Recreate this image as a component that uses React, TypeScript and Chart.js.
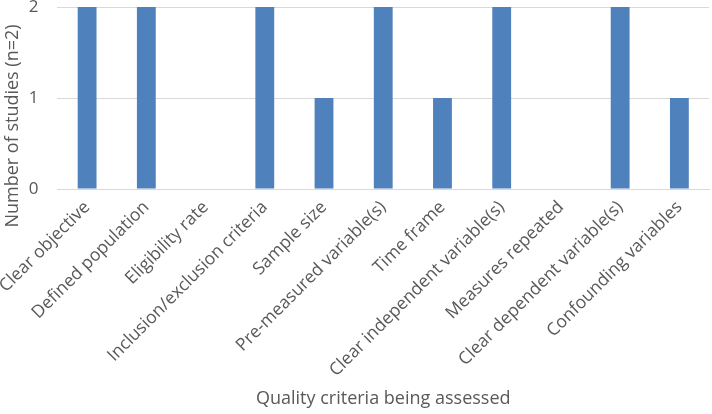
import React, { useEffect, useRef } from "react";
import { Chart, registerables } from "chart.js";

Chart.register(...registerables);

const categories = [
  "Clear objective",
  "Defined population",
  "Eligibility rate",
  "Inclusion/exclusion criteria",
  "Sample size",
  "Pre-measured variable(s)",
  "Time frame",
  "Clear independent variable(s)",
  "Measures repeated",
  "Clear dependent variable(s)",
  "Confounding variables",
];
const studies = [2, 2, 0, 2, 1, 2, 1, 2, 0, 2, 1];
const yTicks = [0, 1, 2];
const yTitle = "Number of studies (n=2)";
const xTitle = "Quality criteria being assessed";

const font = "'Open Sans', 'Noto Sans', sans-serif";

const yTitlePlugin = {
  id: "yTitle",
  afterDraw(chart: any) {
    const ctx = chart.ctx;
    ctx.save();
    ctx.translate(13, 126);
    ctx.rotate(-Math.PI / 2);
    ctx.fillStyle = "#595959";
    ctx.font = `18px ${font}`;
    ctx.textAlign = "center";
    ctx.textBaseline = "middle";
    ctx.fillText(yTitle, 0, 0);
    ctx.restore();
  },
};

export default function App() {
  const ref = useRef<HTMLCanvasElement>(null);
  useEffect(() => {
    if (!ref.current) return;
    const chart = new Chart(ref.current, {
      type: "bar",
      data: {
        labels: categories,
        datasets: [
          {
            data: studies,
            backgroundColor: "#4f81bd",
            barPercentage: 0.6,
            categoryPercentage: 0.53,
          },
        ],
      },
      options: {
        animation: false,
        responsive: false,
        maintainAspectRatio: false,
        layout: { padding: { left: 0, right: 3, top: 0, bottom: 4 } },
        plugins: { legend: { display: false }, tooltip: { enabled: false } },
        scales: {
          x: {
            grid: { display: false },
            border: { display: true, color: "#d9d9d9" },
            afterFit: (axis: any) => {
              axis.height = 221;
            },
            ticks: {
              color: "#595959",
              font: { family: font, size: 17.5 },
              minRotation: 45,
              maxRotation: 45,
              autoSkip: false,
              padding: 0,
            },
            title: {
              display: true,
              text: xTitle,
              color: "#595959",
              font: { family: font, size: 18 },
              padding: { top: 0, bottom: 0 },
            },
          },
          y: {
            min: 0,
            max: 2,
            afterBuildTicks: (axis: any) => {
              axis.ticks = yTicks.map((v) => ({ value: v }));
            },
            afterFit: (axis: any) => {
              axis.width = 53;
              axis.paddingTop = 7;
              axis.paddingBottom = 0;
            },
            grid: { color: "#d9d9d9", drawTicks: false },
            border: { display: false },
            ticks: {
              color: "#595959",
              font: { family: font, size: 17 },
              padding: 19,
            },
          },
        },
      },
      plugins: [yTitlePlugin],
    });
    return () => chart.destroy();
  }, []);
  return (
    <div style={{ position: "fixed", left: 0, top: 0, width: 712, height: 414, background: "#fff" }}>
      <canvas ref={ref} width={712} height={414} style={{ width: 712, height: 414 }} />
    </div>
  );
}
